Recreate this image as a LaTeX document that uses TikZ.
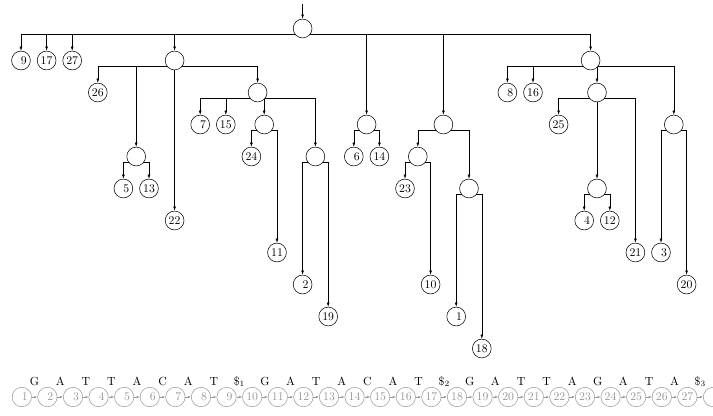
\documentclass[tikz,border=0pt]{standalone}
\usetikzlibrary{arrows.meta,backgrounds}
\begin{document}
\begin{tikzpicture}[x=0.85pt,y=-0.85pt,
  nd/.style={circle,draw,fill=white,inner sep=0pt,minimum size=16pt,line width=0.45pt},
  bnode/.style={circle,draw=black!40,text=black!40,fill=white,inner sep=0pt,minimum size=16.5pt,line width=0.45pt},
  edge/.style={-{Latex[length=3.6pt,width=2.4pt]},line width=0.45pt},
  bedge/.style={-{Latex[length=2.6pt,width=2pt]},draw=black!40,line width=0.45pt},
  lett/.style={inner sep=0pt,anchor=base}]
\useasboundingbox (0,0) rectangle (713,416);
\newcommand\sd[1]{\hphantom{0}#1}
% internal nodes
\node[nd] (root) at (302.6,28.5) {};
\node[nd] (A) at (174.6,60.5) {};
\node[nd] (D) at (590.6,60.5) {};
\node[nd] (A2) at (257.6,92.5) {};
\node[nd] (D1) at (597,92.5) {};
\node[nd] (B) at (366.6,124.5) {};
\node[nd] (C) at (443.4,124.5) {};
\node[nd] (A3) at (264.2,124.5) {};
\node[nd] (D3) at (673.8,124.5) {};
\node[nd] (A1) at (136.2,156.5) {};
\node[nd] (A4) at (315.4,156.5) {};
\node[nd] (C1) at (417.8,156.5) {};
\node[nd] (C2) at (469,188.5) {};
\node[nd] (D2) at (597,188.5) {};
% leaves
\node[nd] (l9) at (21,60.5) {\sd{9}};
\node[nd] (l17) at (46.6,60.5) {17};
\node[nd] (l27) at (72.2,60.5) {27};
\node[nd] (l26) at (97.8,92.5) {26};
\node[nd] (l5) at (123.4,188.5) {\sd{5}};
\node[nd] (l13) at (149,188.5) {13};
\node[nd] (l22) at (174.6,220.5) {22};
\node[nd] (l7) at (200.2,124.5) {\sd{7}};
\node[nd] (l15) at (225.8,124.5) {15};
\node[nd] (l24) at (251.4,156.5) {24};
\node[nd] (l11) at (277,252.5) {11};
\node[nd] (l2) at (302.6,284.5) {\sd{2}};
\node[nd] (l19) at (328.2,316.5) {19};
\node[nd] (l6) at (353.8,156.5) {\sd{6}};
\node[nd] (l14) at (379.4,156.5) {14};
\node[nd] (l23) at (405,188.5) {23};
\node[nd] (l10) at (430.6,284.5) {10};
\node[nd] (l1) at (456.2,316.5) {\sd{1}};
\node[nd] (l18) at (481.8,348.5) {18};
\node[nd] (l8) at (507.4,92.5) {\sd{8}};
\node[nd] (l16) at (533,92.5) {16};
\node[nd] (l25) at (558.6,124.5) {25};
\node[nd] (l4) at (584.2,220.5) {\sd{4}};
\node[nd] (l12) at (609.8,220.5) {12};
\node[nd] (l21) at (635.4,252.5) {21};
\node[nd] (l3) at (661,252.5) {\sd{3}};
\node[nd] (l20) at (686.6,284.5) {20};
\coordinate (top) at (302.6,4);
% edges
\begin{scope}[on background layer]
\draw[edge] (top) -- (root);
\foreach \p/\cs in {root/{l9,l17,l27,A,B,C,D},
                    A/{l26,A1,l22,A2}, A1/{l5,l13},
                    A2/{l7,l15,A3,A4}, A3/{l24,l11}, A4/{l2,l19},
                    B/{l6,l14}, C/{C1,C2}, C1/{l23,l10}, C2/{l1,l18},
                    D/{l8,l16,D1,D3}, D1/{l25,D2,l21}, D2/{l4,l12}, D3/{l3,l20}}
  \foreach \c in \cs
    \draw[edge] ([yshift=-5.1pt]\p.center) -| (\c);
\end{scope}
% bottom row
\foreach \k in {1,...,27}
  \node[bnode] (b\k) at ({21.8+25.6*(\k-1)},397) {\ifnum\k<10 \hphantom{0}\fi\k};
\node[bnode] (b28) at ({21.8+25.6*27},397) {};
\foreach \k [evaluate=\k as \n using int(\k+1)] in {1,...,27}
  \draw[bedge] (b\k) -- (b\n);
\foreach \c [count=\i] in {G,A,T,T,A,C,A,T,{$\$_1$},G,A,T,A,C,A,T,{$\$_2$},G,A,T,T,A,G,A,T,A,{$\$_3$}}
  \node[lett] (t\i) at ({21.8+25.6*(\i-1)+12.8},385) {\c};
\end{tikzpicture}
\end{document}
